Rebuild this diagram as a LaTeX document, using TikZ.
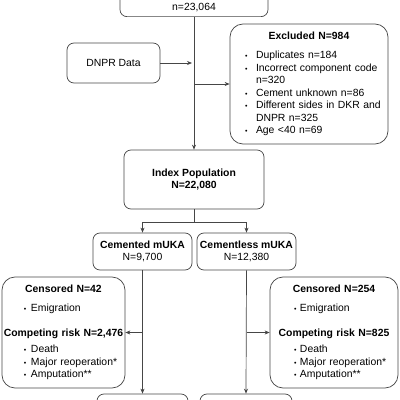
\documentclass[tikz,border=0pt]{standalone}
\usepackage{fontspec}
\setmainfont{Liberation Sans}
\usetikzlibrary{arrows.meta}

\begin{document}
\begin{tikzpicture}[x=1pt,y=1pt,line width=0.7pt,
  flowbox/.style={draw=flowline,rounded corners=7pt,align=center,inner sep=2pt,font=\ften,text=black},
  listbox/.style={flowbox,rounded corners=13pt,align=left},
  flowarrow/.style={draw=flowline,-{Stealth[length=5pt,width=4pt]}}]
\definecolor{flowline}{RGB}{70,70,70}
\providecommand{\ften}{\fontsize{10.4}{12.5}\selectfont}
\providecommand{\bul}[2]{\hspace*{#1}\makebox[#2][l]{\scriptsize\textbullet}}
\providecommand{\ttl}[1]{\makebox[\linewidth][c]{\textbf{#1}}}
\useasboundingbox (0,0) rectangle (400,400);
\clip (0,0) rectangle (400,400);
% boxes
\node[flowbox,minimum width=148,text height=30pt,text depth=4.3pt,anchor=south] (total) at (194,383) {n=23,064};
\node[flowbox,minimum width=93,minimum height=40] (dnpr) at (113.5,337) {DNPR Data};
\node[listbox,minimum width=158,minimum height=120,text width=150] (excl) at (309,316) {%
\ttl{Excluded N=984}\\[6.5pt]
\bul{11pt}{11pt}Duplicates n=184\\
\bul{11pt}{11pt}Incorrect component code\\
\hspace*{22pt}n=320\\
\bul{11pt}{11pt}Cement unknown n=86\\
\bul{11pt}{11pt}Different sides in DKR and\\
\hspace*{22pt}DNPR n=325\\
\bul{11pt}{11pt}Age \textless 40 n=69};
\node[flowbox,minimum width=140,minimum height=59,font=\ften\bfseries] (index) at (194,220.5) {Index Population\\N=22,080};
\node[flowbox,minimum width=99,minimum height=37] (cem) at (142.5,148.5) {\textbf{Cemented mUKA}\\N=9,700};
\node[flowbox,minimum width=99,minimum height=37] (cless) at (246.5,148.5) {\textbf{Cementless mUKA}\\N=12,380};
\node[listbox,minimum width=123,minimum height=111,text width=119] (censL) at (63.5,67.5) {%
\ttl{Censored N=42}\\[6.5pt]
\bul{20pt}{7pt}Emigration\\[12.5pt]
\ttl{Competing risk N=2,476}\\[3.5pt]
\bul{20pt}{7pt}Death\\
\bul{20pt}{7pt}Major reoperation*\\
\bul{20pt}{7pt}Amputation**};
\node[listbox,minimum width=128,minimum height=111,text width=124] (censR) at (334,67.5) {%
\ttl{Censored N=254}\\[6.5pt]
\bul{22pt}{6pt}Emigration\\[12.5pt]
\ttl{Competing risk N=825}\\[3.5pt]
\bul{22pt}{6pt}Death\\
\bul{22pt}{6pt}Major reoperation*\\
\bul{22pt}{6pt}Amputation**};
\node[flowbox,minimum width=91,minimum height=36] (endL) at (142.5,-12) {};
\node[flowbox,minimum width=92,minimum height=36] (endR) at (246,-12) {};
% connectors
\draw[flowarrow] (total.south) -- (index.north);
\draw[flowarrow,shorten >=2pt] (dnpr.east) -- (dnpr.east -| total.south);
\draw[flowarrow] (excl.west -| total.south) -- (excl.west);
\draw[draw=flowline] (index.south) -- ++(0,-13) coordinate (split);
\draw[flowarrow] (split) -| (cem.north);
\draw[flowarrow] (split) -| (cless.north);
\draw[flowarrow] (cem.south) -- (endL.north);
\draw[flowarrow] (cless.south) -- (endR.north);
\draw[flowarrow] (cem.south |- censL.east) -- (censL.east);
\draw[flowarrow] (cless.south |- censR.west) -- (censR.west);
\end{tikzpicture}
\end{document}
